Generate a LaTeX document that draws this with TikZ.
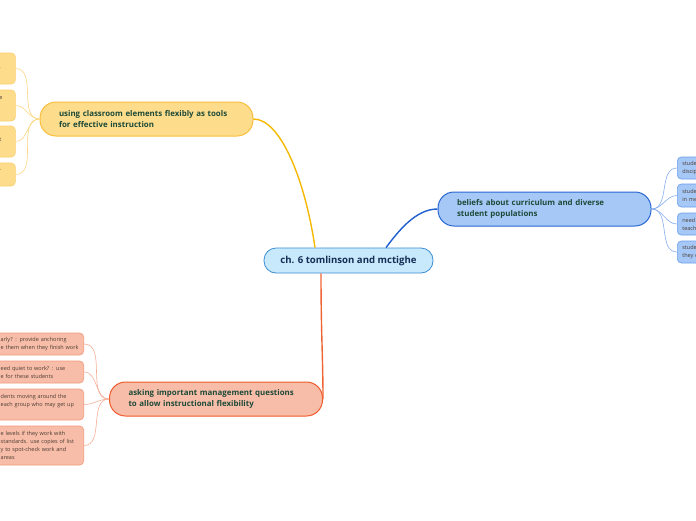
\documentclass[tikz,border=0pt]{standalone}
\usepackage{fontspec}
\setmainfont{Open Sans}
\definecolor{rootfill}{HTML}{C7E9FB}
\definecolor{rootline}{HTML}{3B8ED3}
\definecolor{roottext}{HTML}{142D55}
\definecolor{topictext}{HTML}{1C4A38}
\definecolor{leaftext}{HTML}{4A3C32}
\definecolor{yelfill}{HTML}{FDDC8C}
\definecolor{yelline}{HTML}{F7BE3C}
\definecolor{yellink}{HTML}{F5B800}
\definecolor{yelleafline}{HTML}{FBD06C}
\definecolor{yelleaflink}{HTML}{FCD680}
\definecolor{bluefill}{HTML}{A6C8F7}
\definecolor{blueline}{HTML}{2866D1}
\definecolor{bluelink}{HTML}{1E5FD0}
\definecolor{blueleafline}{HTML}{6C9DEB}
\definecolor{blueleaflink}{HTML}{86ADEE}
\definecolor{redfill}{HTML}{F8BDA8}
\definecolor{redline}{HTML}{EE5A2B}
\definecolor{redlink}{HTML}{EF6432}
\definecolor{redleafline}{HTML}{F39A7C}
\definecolor{redleaflink}{HTML}{F6AE95}
\begin{document}
\begin{tikzpicture}[x=1pt, y=-1pt,
        rootbox/.style={draw=rootline, fill=rootfill, rounded corners=12pt, line width=0.8pt, minimum width=169pt, minimum height=25pt, align=center, text=roottext, font=\fontsize{9.6}{11}\selectfont\bfseries},
        topicbox/.style={draw, rounded corners=16pt, line width=1pt, minimum height=34pt, text width=175pt, inner xsep=19pt, align=left, text=topictext, font=\fontsize{7.9}{11}\selectfont\bfseries},
        leafbox/.style={draw, rounded corners=4pt, line width=0.6pt, inner xsep=5pt, inner ysep=3pt, align=left, text=leaftext, font=\fontsize{5.5}{8}\selectfont},
        mainlink/.style={line width=1.4pt},
        leaflink/.style={line width=0.6pt}
    ]
    \useasboundingbox (0,0) rectangle (696,520);
    \clip (0,0) rectangle (696,520);

    % --- ROOT ---
    \node[rootbox] (root) at (348.5,260.5) {ch. 6 tomlinson and mctighe};

    % --- MAIN TOPICS ---
    \node[topicbox, draw=yelline, fill=yelfill] (tools) at (146.5,119) {using classroom elements flexibly as tools\\for effective instruction};
    \node[topicbox, draw=blueline, fill=bluefill] (beliefs) at (544.5,209) {beliefs about curriculum and diverse\\student populations};
    \node[topicbox, draw=redline, fill=redfill] (asking) at (216,399) {asking important management questions\\to allow instructional flexibility};

    % --- Leaves: tools (cut at left edge) ---
    \node[leafbox, anchor=west, draw=yelleafline, fill=yelfill, text width=11pt, minimum height=31pt] (tool1) at (-6,68.5) {\mbox{}\\.\\\mbox{}};
    \node[leafbox, anchor=west, draw=yelleafline, fill=yelfill, text width=11pt, minimum height=31pt] (tool2) at (-6,105.5) {e\\\mbox{}\\\mbox{}};
    \node[leafbox, anchor=west, draw=yelleafline, fill=yelfill, text width=11pt, minimum height=31pt] (tool3) at (-6,141.5) {\mbox{}\\t\\\mbox{}};
    \node[leafbox, anchor=west, draw=yelleafline, fill=yelfill, text width=11pt, minimum height=23pt] (tool4) at (-6,174.5) {-\\\mbox{}};

    % --- Leaves: beliefs (cut at right edge) ---
    \node[leafbox, anchor=west, draw=blueleafline, fill=bluefill, text width=40pt, minimum height=22pt] (belief1) at (677,168) {stude\\discip};
    \node[leafbox, anchor=west, draw=blueleafline, fill=bluefill, text width=40pt, minimum height=23pt] (belief2) at (677,195.5) {stude\\in me};
    \node[leafbox, anchor=west, draw=blueleafline, fill=bluefill, text width=40pt, minimum height=22pt] (belief3) at (677,224) {need\\teach};
    \node[leafbox, anchor=west, draw=blueleafline, fill=bluefill, text width=40pt, minimum height=22pt] (belief4) at (677,252) {stude\\they c};

    % --- Leaves: asking (cut at left edge) ---
    \node[leafbox, anchor=east, draw=redleafline, fill=redfill, text width=78pt, minimum height=22pt] (ask1) at (84,344) {arly? : provide anchoring\\e them when they finish work};
    \node[leafbox, anchor=east, draw=redleafline, fill=redfill, text width=78pt, minimum height=22pt] (ask2) at (84,372) {eed quiet to work? : use\\e for these students};
    \node[leafbox, anchor=east, draw=redleafline, fill=redfill, text width=78pt, minimum height=31pt] (ask3) at (84,404.5) {dents moving around the\\each group who may get up\\\mbox{}};
    \node[leafbox, anchor=east, draw=redleafline, fill=redfill, text width=78pt, minimum height=39pt] (ask4) at (84,445.5) {e levels if they work with\\standards. use copies of list\\y to spot-check work and\\areas};

    % --- MAIN LINKS ---
    \draw[mainlink, yellink] (tools.east) .. controls +(27,0) and +(-10,-68) .. ([xshift=-33.5pt]root.north);
    \draw[mainlink, bluelink] (beliefs.west) .. controls +(-22,0) and +(12,-16) .. ([xshift=37.5pt]root.north);
    \draw[mainlink, redlink] ([xshift=-27.5pt]root.south) .. controls +(0,60) and +(0,-40) .. (asking.east);

    % --- LEAF LINKS ---
    \foreach \i in {1,...,4} {
        \draw[leaflink, yelleaflink] (tools.west) to[out=180, in=0] (tool\i.east);
        \draw[leaflink, blueleaflink] (beliefs.east) to[out=0, in=180] (belief\i.west);
        \draw[leaflink, redleaflink] (asking.west) to[out=180, in=0] (ask\i.east);
    }

\end{tikzpicture}
\end{document}
